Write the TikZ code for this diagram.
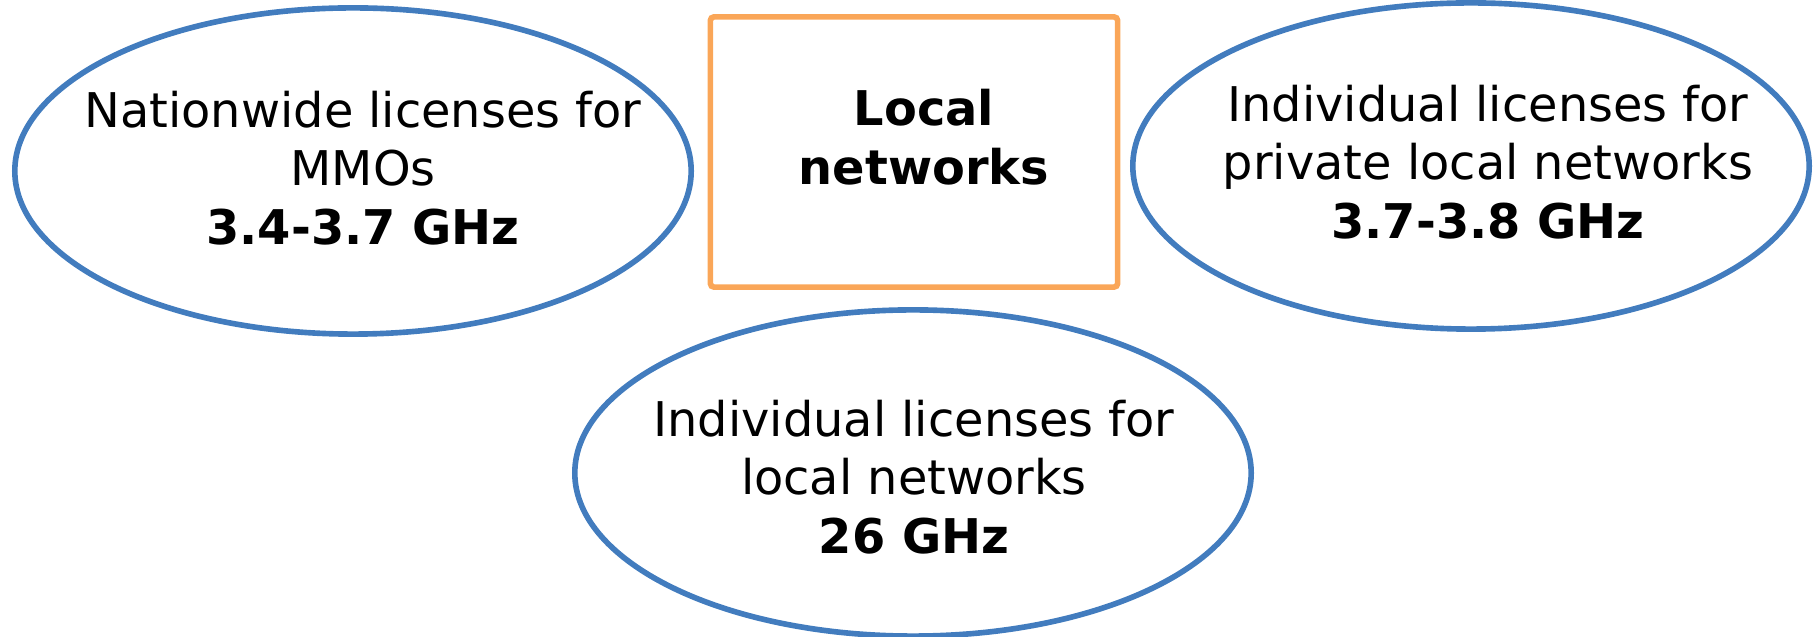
\documentclass[tikz,border=0pt]{standalone}
\usepackage{fontspec}
\setmainfont{DejaVu Sans}
\usetikzlibrary{shapes.geometric}
\definecolor{ringblue}{RGB}{66,124,190}
\definecolor{boxorange}{RGB}{250,166,88}
\newcommand{\labelsize}{\fontsize{13.6}{16.6}\selectfont}

\begin{document}
\begin{tikzpicture}[
  x=0.01cm, y=-0.01cm,
  ring/.style={ellipse, draw=ringblue, line width=1.6pt, minimum width=6.76cm, minimum height=3.26cm, inner sep=0pt},
  box/.style={rectangle, draw=boxorange, line width=1.6pt, rounded corners=1pt, minimum width=4.07cm, minimum height=2.70cm},
  txt/.style={align=center, inner sep=0pt, font=\labelsize}
]
  \useasboundingbox (0,0) rectangle (1814,637);

  % Licence areas
  \node[ring] (mmo) at (353,171) {};
  \node[ring] (priv) at (1471,166) {};
  \node[ring] (mmw) at (913,473) {};

  % Centre box
  \node[box] (local) at (914,152) {};
  \node[txt, font=\labelsize\bfseries] (localText) at (924,137) {Local\\networks};

  % Labels in the ellipses
  \node[txt] (mmoText) at (363,168) {Nationwide licenses for\\MMOs\\\textbf{3.4-3.7 GHz}};
  \node[txt] (privText) at (1488,162) {Individual licenses for\\private local networks\\\textbf{3.7-3.8 GHz}};
  \node[txt] (mmwText) at (914,477) {Individual licenses for\\local networks\\\textbf{26 GHz}};

\end{tikzpicture}
\end{document}
